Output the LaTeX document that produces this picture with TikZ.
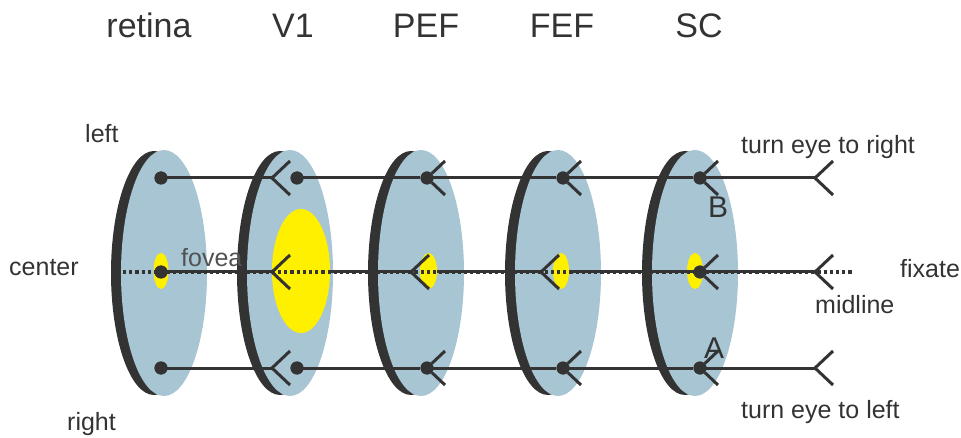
\documentclass[tikz,border=0pt]{standalone}
\usepackage{fontspec}
\setmainfont{Liberation Sans}
\usetikzlibrary{calc}
\definecolor{disk}{HTML}{A8C5D3}
\definecolor{rim}{HTML}{333333}
\definecolor{fov}{HTML}{FFF000}
\definecolor{txt}{HTML}{333333}
\begin{document}
\begin{tikzpicture}[x=1pt,y=-1pt,
 title/.style={font=\fontsize{34}{40}\selectfont, text=txt, anchor=base, inner sep=0},
 lbl/.style={font=\fontsize{25}{30}\selectfont, text=txt, anchor=base west, inner sep=0},
 letter/.style={font=\fontsize{30}{36}\selectfont, text=txt, inner sep=0},
 dotnode/.style={circle, fill=rim, minimum size=13pt, inner sep=0},
 conn/.style={draw=rim, line width=3pt},
 forkline/.style={draw=rim, line width=3pt},
 midline/.style={draw=rim, line width=3.4pt, dash pattern=on 3.2pt off 3pt},
 rimfill/.style={fill=rim},
 diskfill/.style={fill=disk},
 fovfill/.style={fill=fov}
]
\useasboundingbox (0,0) rectangle (961,438);

% disks
\foreach \c in {164,290,421,558,695}{
  \path[rimfill] (\c-10,273) ellipse [x radius=43, y radius=122];
  \path[diskfill] (\c,273) ellipse [x radius=43, y radius=123];
}
% foveal regions
\path[fovfill] (161,271) ellipse [x radius=7.5, y radius=18];
\path[fovfill] (301,271) ellipse [x radius=29, y radius=62];
\path[fovfill] (428.5,271) ellipse [x radius=8.5, y radius=18];
\path[fovfill] (561,271) ellipse [x radius=8, y radius=18];
\path[fovfill] (695,271) ellipse [x radius=8, y radius=18];

% titles
\node[title] (tRet) at (149,38) {retina};
\node[title] (tV1) at (293,38) {V1};
\node[title] (tPEF) at (426,38) {PEF};
\node[title] (tFEF) at (562,38) {FEF};
\node[title] (tSC) at (699,38) {SC};

% coordinates of fork vertices
\foreach \n/\x in {v/272,p/411,f/541,s/673,o/815}{
  \coordinate (\n t) at (\x,178);
  \coordinate (\n m) at (\x,272);
  \coordinate (\n b) at (\x,368);
}
% right ends of foveal regions
\coordinate (vy) at (330,272);
\coordinate (py) at (437,272);
\coordinate (fy) at (569,272);
% midline ends
\coordinate (midL) at (123,272);
\coordinate (midR) at (852,272);

% dotted midline
\draw[midline] (midL) -- (midR);

% dot nodes
\node[dotnode] (rt) at (161,178) {};
\node[dotnode] (rm) at (161,272) {};
\node[dotnode] (rb) at (161,368) {};
\node[dotnode] (V1t) at (297,178) {};
\node[dotnode] (V1b) at (297,368) {};
\node[dotnode] (pt) at (427,178) {};
\node[dotnode] (pb) at (427,368) {};
\node[dotnode] (ft) at (563,178) {};
\node[dotnode] (fb) at (563,368) {};
\node[dotnode] (st) at (700,178) {};
\node[dotnode] (sm) at (700,272) {};
\node[dotnode] (sb) at (700,368) {};

% connectors
\draw[conn] (rt.center) -- (vt);
\draw[conn] (rm.center) -- (vm);
\draw[conn] (rb.center) -- (vb);
\draw[conn] (V1t.center) -- (pt);
\draw[conn] (vy) -- (pm);
\draw[conn] (V1b.center) -- (pb);
\draw[conn] (pt.center) -- (ft);
\draw[conn] (py) -- (fm);
\draw[conn] (pb.center) -- (fb);
\draw[conn] (ft.center) -- (st);
\draw[conn] (fy) -- (sm);
\draw[conn] (fb.center) -- (sb);
\draw[conn] (st.center) -- (ot);
\draw[conn] (sm.center) -- (om);
\draw[conn] (sb.center) -- (ob);

% forks
\foreach \n in {vt,vm,vb,pt,pm,pb,ft,fm,fb,st,sm,sb,ot,om,ob}{
  \draw[forkline] ($(\n)+(18,-17)$) -- (\n) -- ($(\n)+(18,17)$);
}
% redraw dots on top
\foreach \d in {rt,rm,rb,V1t,V1b,pt,pb,ft,fb,st,sm,sb}{
  \fill[rim] (\d.center) circle (6.5);
}

% labels
\node[letter] (lB) at (718,207) {B};
\node[letter] (lA) at (714,348) {A};
\node[lbl] (lLeft) at (85,143) {left};
\node[lbl] (lCenter) at (9,276) {center};
\node[lbl] (lRight) at (67,430) {right};
\node[lbl, text=txt!85] (lFovea) at (181,267) {fovea};
\node[lbl] (lTR) at (741,154) {turn eye to right};
\node[lbl] (lTL) at (741,418) {turn eye to left};
\node[lbl] (lMid) at (815,313) {midline};
\node[lbl] (lFix) at (900,278) {fixate};
\end{tikzpicture}
\end{document}
